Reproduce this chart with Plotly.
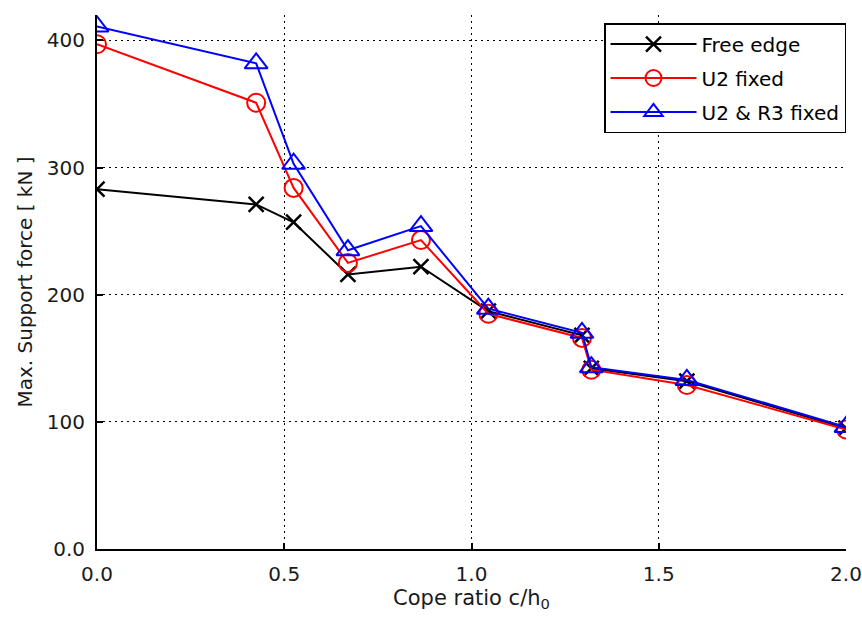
import plotly.graph_objects as go

cope_ratio = [0.0, 0.425, 0.525, 0.67, 0.865, 1.045, 1.295, 1.32, 1.575, 2.0]
free_edge = [283, 271, 257, 216, 222, 187, 168, 142, 132, 95]
u2_fixed = [397, 351, 284, 225, 243, 185, 166, 141, 129, 94]
u2_r3_fixed = [411, 382, 303, 235, 254, 189, 170, 143, 133, 96]

x_tickvals = [0.0, 0.5, 1.0, 1.5, 2.0]
x_ticktext = ["0.0", "0.5", "1.0", "1.5", "2.0"]
y_tickvals = [0, 100, 200, 300, 400]
y_ticktext = ["0.0", "100", "200", "300", "400"]

FONT = "DejaVu Sans, Arial, sans-serif"

fig = go.Figure()
fig.add_trace(go.Scatter(
    x=cope_ratio, y=free_edge, name="Free edge", mode="lines+markers",
    legendgroup="a",
    line=dict(color="black", width=2),
    marker=dict(symbol="x-thin-open", size=15, line=dict(color="black", width=2.5)),
))
fig.add_trace(go.Scatter(
    x=cope_ratio, y=u2_fixed, name="U2 fixed", mode="lines+markers",
    legendgroup="b",
    line=dict(color="#ff0000", width=2),
    marker=dict(symbol="circle-open", size=18, color="#ff0000", line=dict(width=2)),
))
fig.add_trace(go.Scatter(
    x=cope_ratio, y=u2_r3_fixed, name="U2 & R3 fixed", mode="lines+markers",
    legendgroup="c",
    line=dict(color="#0000ff", width=2),
    marker=dict(symbol="triangle-up-open", size=20, color="#0000ff", line=dict(width=2)),
))

fig.update_layout(
    width=862, height=618,
    margin=dict(l=97, r=16, t=15, b=69),
    paper_bgcolor="white", plot_bgcolor="white",
    font=dict(family=FONT, size=21, color="#1a1a1a"),
    legend=dict(
        x=1.0, y=0.985, xanchor="right", yanchor="top",
        bordercolor="black", borderwidth=1.5, bgcolor="white",
        font=dict(family=FONT, size=20, color="black"),
        tracegroupgap=5, itemwidth=86,
    ),
    showlegend=True,
)
fig.update_xaxes(
    range=[0, 2.0], tickvals=x_tickvals, ticktext=x_ticktext,
    tickfont=dict(size=20),
    showline=True, linecolor="black", linewidth=2,
    ticks="inside", ticklen=6, tickcolor="black", tickwidth=1.5,
    showgrid=True, gridcolor="black", griddash="2px,4px", gridwidth=1,
    zeroline=False, ticklabelstandoff=6, automargin=False,
    ticklabeloverflow="allow",
    title=dict(text="Cope ratio c/h<sub>0</sub>", standoff=4, font=dict(size=21)),
)
fig.update_yaxes(
    range=[0, 420], tickvals=y_tickvals, ticktext=y_ticktext,
    tickfont=dict(size=20),
    showline=True, linecolor="black", linewidth=2,
    ticks="inside", ticklen=6, tickcolor="black", tickwidth=1.5,
    showgrid=True, gridcolor="black", griddash="2px,4px", gridwidth=1,
    zeroline=False, ticklabelstandoff=6, automargin=False,
    ticklabeloverflow="allow",
    title=dict(text="Max. Support force [ kN ]", standoff=9, font=dict(size=20)),
)

# remove the default page margin so the figure fills the window exactly
fig.write_html(
    "out.html",
    config={"displayModeBar": False},
    post_script="document.body.style.margin='0';document.body.style.overflow='hidden';",
)
